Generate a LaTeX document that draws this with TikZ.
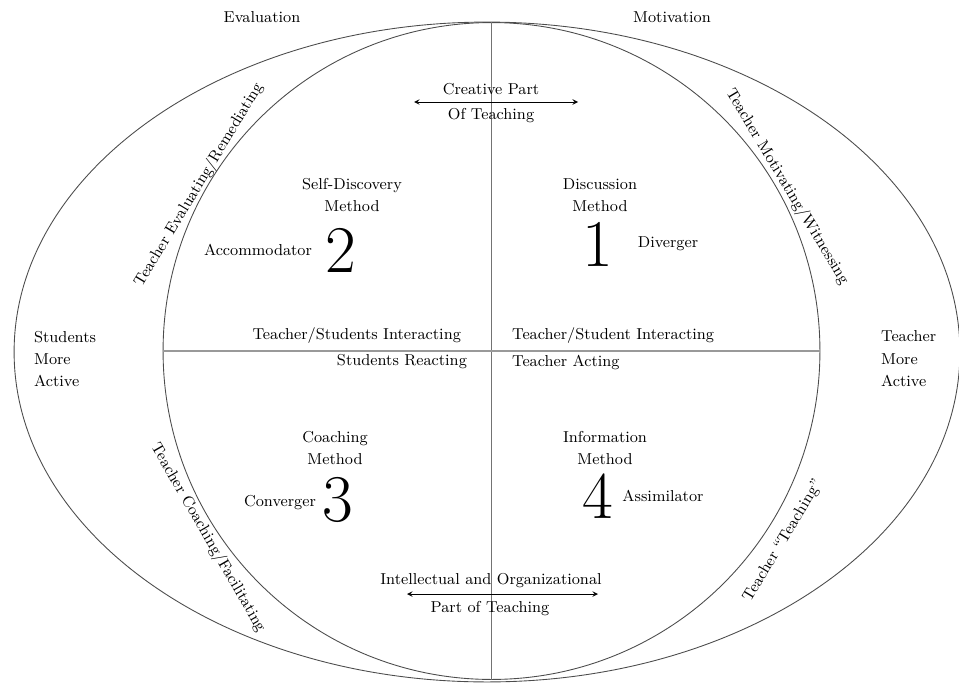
\documentclass[tikz,border=0pt]{standalone}
\usepackage{fontspec}
\usepackage{tikz}
\usetikzlibrary{shapes,positioning}
\tikzset{lbl/.style={font=\fontsize{9}{12.8}\selectfont,inner sep=1pt,align=center},
 big/.style={font=\fontsize{38}{40}\selectfont,inner sep=0pt},
 rim/.style={draw=black!70,line width=0.5pt,inner sep=0pt}}

\begin{document}
\begin{tikzpicture}[>=stealth,x=0.02cm,y=-0.02cm]
    \useasboundingbox (0,0) rectangle (959,683);
    \node[ellipse,rim,minimum width=18.92cm,minimum height=13.2cm] (outer)at (487,352) {};
    \node[circle,rim,minimum size=13.14cm] (inner)at (491.5,351) {};

    \draw [black!55,line width=0.6pt] (inner.north) to (inner.south);
    \draw [black!40,line width=1.3pt] (inner.west) to (inner.east);

    \node[lbl] (eval)at (262,17) {Evaluation};
    \node[lbl] (motiv)at (672,17) {Motivation};

    \node[lbl] (creat)at (491,89) {Creative Part};
    \node[lbl] (ofteach)at (491,116) {Of Teaching};
    \coordinate (ca)at (414,102);
    \coordinate (cb)at (578,102);
    \draw [<->] (ca) to (cb);

    \node[lbl] (selfd)at (352,195) {Self-Discovery\\Method};
    \node[big] (two)at (341,250) {2};
    \node[lbl] (accom)at (258,250) {Accommodator};

    \node[lbl] (disc)at (600,195) {Discussion\\Method};
    \node[big] (one)at (598,244) {1};
    \node[lbl] (diver)at (668,244) {Diverger};

    \node[lbl,anchor=east] (tsi)at (463,336) {Teacher/Students Interacting};
    \node[lbl,anchor=west] (tsj)at (510,336) {Teacher/Student Interacting};
    \node[lbl,anchor=east] (sreact)at (469,362) {Students Reacting};
    \node[lbl,anchor=west] (tact)at (510,362) {Teacher Acting};

    \node[lbl,align=left,anchor=west] (smore)at (32,359) {Students\\More\\Active};
    \node[lbl,align=left,anchor=west] (tmore)at (879,359) {Teacher\\More\\Active};

    \node[lbl] (coach)at (335,448) {Coaching\\Method};
    \node[big] (three)at (338,500) {3};
    \node[lbl] (conv)at (280,503) {Converger};

    \node[lbl] (info)at (605,448) {Information\\Method};
    \node[big] (four)at (598,496) {4};
    \node[lbl] (assim)at (663,496) {Assimilator};

    \node[lbl] (intel)at (491,581) {Intellectual and Organizational};
    \node[lbl] (partof)at (490,609) {Part of Teaching};
    \coordinate (ia)at (407,594);
    \coordinate (ib)at (598,594);
    \draw [<->] (ia) to (ib);

    \node[lbl,rotate=59] (evrem)at (199,185) {Teacher Evaluating/Remediating};
    \node[lbl,rotate=-59] (motwit)at (787,187) {Teacher Motivating/Witnessing};
    \node[lbl,rotate=-60] (coafac)at (208,538) {Teacher Coaching/Facilitating};
    \node[lbl,rotate=59] (teach)at (783,541) {Teacher ``Teaching''};
\end{tikzpicture}
\end{document}
